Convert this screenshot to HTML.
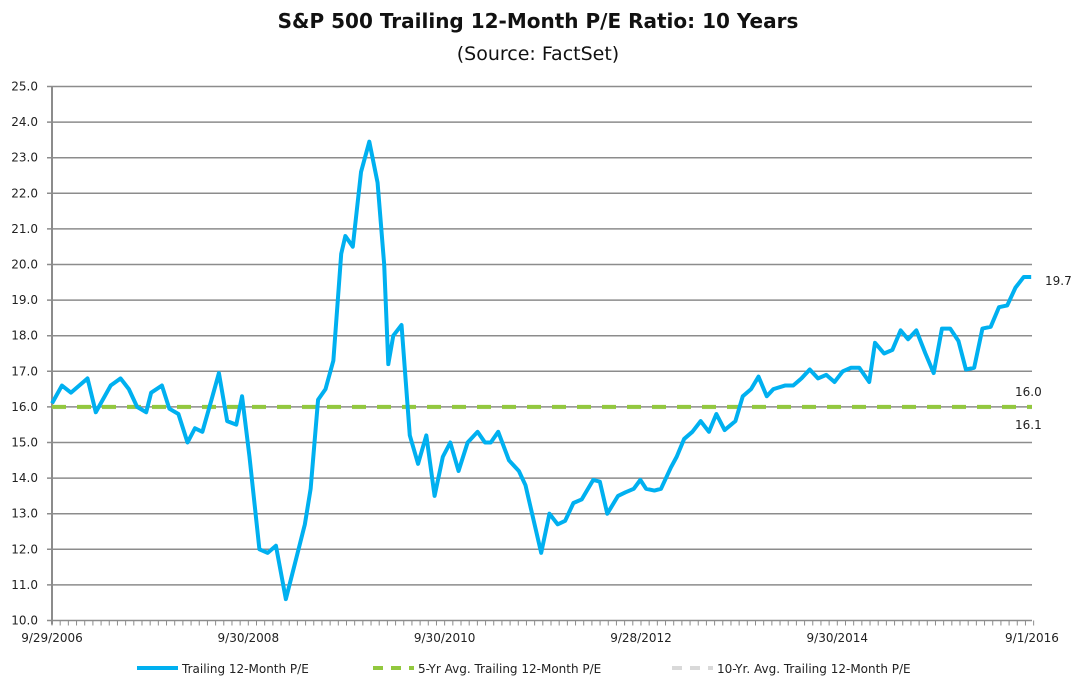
<!DOCTYPE html>
<html><head><meta charset="utf-8"><style>
body{margin:0;background:#fff;font-family:"Liberation Sans",sans-serif}
svg text{font-family:"DejaVu Sans","Liberation Sans",sans-serif}
</style></head><body>
<svg width="1077" height="690" xmlns="http://www.w3.org/2000/svg">
<text x="538" y="28" text-anchor="middle" font-size="20" font-weight="bold" fill="#111">S&amp;P 500 Trailing 12-Month P/E Ratio: 10 Years</text>
<text x="538" y="60" text-anchor="middle" font-size="19" fill="#111">(Source: FactSet)</text>
<g id="grid"></g><g id="xaxis"></g><g id="series"></g>
<text x="1045" y="285" font-size="12" fill="#222">19.7</text>
<text x="1015" y="396" font-size="12" fill="#222">16.0</text>
<text x="1015" y="429" font-size="12" fill="#222">16.1</text>
<g>
<line x1="137" y1="668" x2="178" y2="668" stroke="#00b0f0" stroke-width="4"/>
<text x="182" y="673" font-size="12" fill="#222">Trailing 12-Month P/E</text>
<line x1="373" y1="668" x2="414" y2="668" stroke="#92c83e" stroke-width="4" stroke-dasharray="10,8"/>
<text x="418" y="673" font-size="12" fill="#222">5-Yr Avg. Trailing 12-Month P/E</text>
<line x1="672" y1="668" x2="713" y2="668" stroke="#d9d9d9" stroke-width="4" stroke-dasharray="10,8"/>
<text x="717" y="673" font-size="12" fill="#222">10-Yr. Avg. Trailing 12-Month P/E</text>
</g>
</svg>
<script>
const months=[0,1.2,2.3,4.3,5.3,7.1,8.3,9.3,10.3,11.4,12,13.3,14.2,15.3,16.4,17.3,18.2,19.3,20.2,21.2,22.3,23,23.9,25.1,26.1,27.1,28.3,29.4,30.6,31.3,32.2,33.1,34.05,35,35.5,36.4,37.4,38.4,39.4,40.2,40.7,41.3,42.3,43.3,44.3,45.3,46.3,47.3,48.2,49.2,50.3,51.5,52.4,53.1,54,55.3,56.5,57.3,58.5,59.2,60.2,61.2,62.1,63.1,64.1,65.5,66.3,67.2,68.5,69.4,70.4,71.2,71.9,72.9,73.7,74.9,75.6,76.5,77.5,78.5,79.5,80.4,81.4,82.7,83.6,84.6,85.5,86.5,87.3,88.7,89.7,90.7,91.7,92.7,93.7,94.7,95.7,96.7,97.7,98.9,99.6,100.7,101.7,102.7,103.6,104.6,105.7,106.7,107.7,108.7,109.7,110.6,111.6,112.6,113.6,114.6,115.6,116.6,117.6,118.5,119.8];
const values=[16.1,16.6,16.4,16.8,15.85,16.6,16.8,16.5,16.0,15.85,16.4,16.6,15.95,15.8,15.0,15.4,15.3,16.2,16.95,15.6,15.5,16.3,14.6,12.0,11.9,12.1,10.6,11.6,12.7,13.7,16.2,16.5,17.3,20.3,20.8,20.5,22.6,23.45,22.3,20.0,17.2,18.0,18.3,15.2,14.4,15.2,13.5,14.6,15.0,14.2,15.0,15.3,15.0,15.0,15.3,14.5,14.2,13.8,12.6,11.9,13.0,12.7,12.8,13.3,13.4,13.95,13.9,13.0,13.5,13.6,13.7,13.95,13.7,13.65,13.7,14.3,14.6,15.1,15.3,15.6,15.3,15.8,15.35,15.6,16.3,16.5,16.85,16.3,16.5,16.6,16.6,16.8,17.05,16.8,16.9,16.7,17.0,17.1,17.1,16.7,17.8,17.5,17.6,18.15,17.9,18.15,17.5,16.95,18.2,18.2,17.85,17.05,17.1,18.2,18.25,18.8,18.85,19.35,19.65,19.65];
const yTicks=[10,11,12,13,14,15,16,17,18,19,20,21,22,23,24,25];
const xLabels=["9/29/2006","9/30/2008","9/30/2010","9/28/2012","9/30/2014","9/1/2016"];
const xLabelMonths=[0,24,48,72,96,119.8];
const avg5=[16.0], avg10=[16.05];
const X0=52,X1=1032,Y0=620.5,Y1=86.5;
const N=Math.min(values.length,months.length);
const xs=m=>X0+m*(X1-X0)/119.8;
const ys=v=>Y0-(v-10)*(Y0-Y1)/15;
const NS="http://www.w3.org/2000/svg";
function mk(t,a,p){const e=document.createElementNS(NS,t);for(const k in a)e.setAttribute(k,a[k]);p.appendChild(e);return e;}
const g=document.getElementById('grid'),xa=document.getElementById('xaxis'),s=document.getElementById('series');
yTicks.forEach(v=>{const y=ys(v);
 const l=mk('line',{x1:X0-5,x2:X1,y1:y,y2:y,stroke:'#8c8c8c','stroke-width':1.5},g);
 
 
 const t=mk('text',{x:38,y:y+4,'text-anchor':'end','font-size':12,fill:'#222'},g);t.textContent=v.toFixed(1);
 
 });
const ya=mk('line',{x1:X0,x2:X0,y1:Y1,y2:Y0+4,stroke:'#8c8c8c','stroke-width':2},g);


for(let m=0;m<=120;m++){mk('line',{x1:xs(m),x2:xs(m),y1:Y0,y2:Y0+5,stroke:'#8c8c8c','stroke-width':1},xa);}
xLabels.forEach((lb,i)=>{const t=mk('text',{x:xs(xLabelMonths[i]),y:642,'text-anchor':'middle','font-size':12,fill:'#222'},xa);t.textContent=lb;
 
 });
const a10=mk('line',{x1:X0,x2:X1,y1:ys(avg10[0])+2,y2:ys(avg10[0])+2,stroke:'#d9d9d9','stroke-width':4,'stroke-dasharray':'14,11'},s);


const a5=mk('line',{x1:X0,x2:X1,y1:ys(avg5[0]),y2:ys(avg5[0]),stroke:'#92c83e','stroke-width':4,'stroke-dasharray':'14,11'},s);


const scale=119.7/months[N-1];
const pts=[];
for(let i=0;i<N;i++){pts.push(xs(months[i]*scale)+','+ys(values[i]));}
const pl=mk('polyline',{points:pts.join(' '),fill:'none',stroke:'#00b0f0','stroke-width':4,'stroke-linejoin':'round'},s);


</script>
</body></html>
